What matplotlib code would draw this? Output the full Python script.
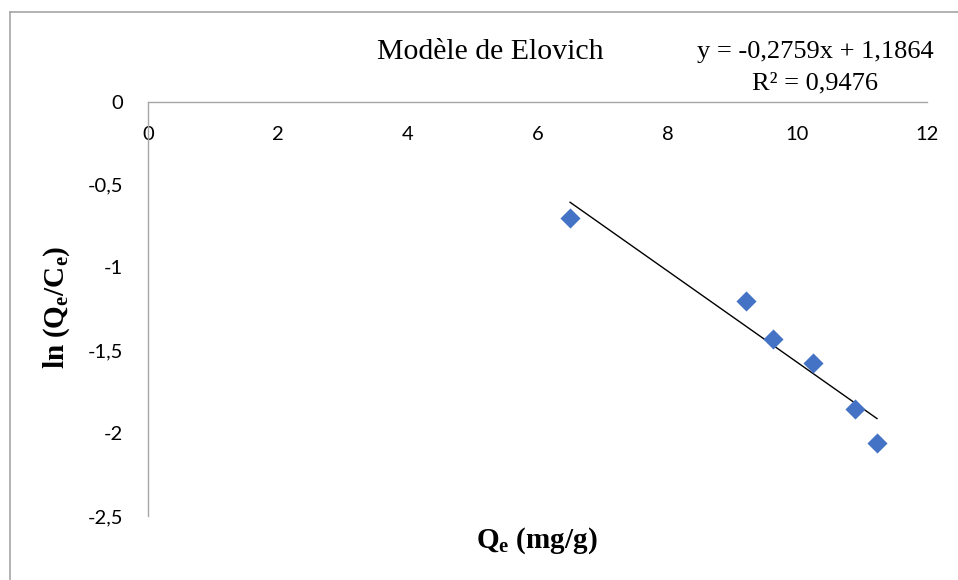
import numpy as np
import matplotlib
matplotlib.use('Agg')
import matplotlib.pyplot as plt
from matplotlib.lines import Line2D

# data
qe = [6.50, 9.21, 9.63, 10.25, 10.89, 11.23]
ln_qc = [-0.703, -1.203, -1.434, -1.574, -1.853, -2.062]
slope = -0.2759
intercept = 1.1864
r2 = 0.9476
x_ticks = [0, 2, 4, 6, 8, 10, 12]
y_ticks = [0, -0.5, -1, -1.5, -2, -2.5]

plt.rcParams['mathtext.fontset'] = 'custom'
plt.rcParams['mathtext.rm'] = 'Liberation Serif'
plt.rcParams['mathtext.bf'] = 'Liberation Serif:bold'
plt.rcParams['mathtext.it'] = 'Liberation Serif:italic'

fig = plt.figure(figsize=(9.58, 5.8), dpi=100)
ax = fig.add_axes([0.1548, 0.1103, 0.8128, 0.7144])

gray = '#a6a6a6'
ax.scatter(qe, ln_qc, marker='D', s=105, color='#4472C4', zorder=3, linewidths=0)

# linear trendline over the data range
xl = np.array([min(qe), max(qe)])
ax.plot(xl, slope * xl + intercept, color='black', lw=1.0, zorder=2)

ax.set_xlim(0, 12)
ax.set_ylim(-2.5, 0)
ax.set_xticks(x_ticks)
ax.set_yticks(y_ticks)
ax.set_xticklabels([str(t) for t in x_ticks])
ax.set_yticklabels([('%g' % t).replace('.', ',') for t in y_ticks])

ax.spines['bottom'].set_position(('data', 0))
ax.spines['top'].set_visible(False)
ax.spines['right'].set_visible(False)
for s in ['bottom', 'left']:
    ax.spines[s].set_color(gray)
    ax.spines[s].set_linewidth(1.0)
ax.tick_params(axis='both', length=0, labelsize=14.5)
ax.tick_params(axis='x', pad=17.5)
ax.tick_params(axis='y', pad=18)
for lab in ax.get_xticklabels() + ax.get_yticklabels():
    lab.set_fontfamily('Lato')

fig.text(537 / 958, 1 - 541 / 580, r'$\mathbf{Q_e}$' + ' (mg/g)', fontsize=21,
         fontweight='bold', family='Liberation Serif', ha='center', va='center')
fig.text(57 / 958, 1 - 307 / 580, r'$\mathbf{ln\ (Q_e/C_e)}$', fontsize=21,
         rotation=90, family='Liberation Serif', ha='center', va='center')

fig.text(490 / 958, 1 - 52 / 580, 'Modèle de Elovich', fontsize=21.5,
         family='Liberation Serif', ha='center', va='center')
fig.text(815 / 958, 1 - 52 / 580, 'y = -0,2759x + 1,1864', fontsize=19,
         family='Liberation Serif', ha='center', va='center')
fig.text(815 / 958, 1 - 83 / 580, 'R² = 0,9476', fontsize=19,
         family='Liberation Serif', ha='center', va='center')

# chart frame
fig.add_artist(Line2D([9.5 / 958, 9.5 / 958], [0, 1 - 11.7 / 580], color=gray, lw=1.2))
fig.add_artist(Line2D([9.5 / 958, 1], [1 - 11.7 / 580, 1 - 11.7 / 580], color=gray, lw=1.2))

fig.savefig('out.png', dpi=100)
